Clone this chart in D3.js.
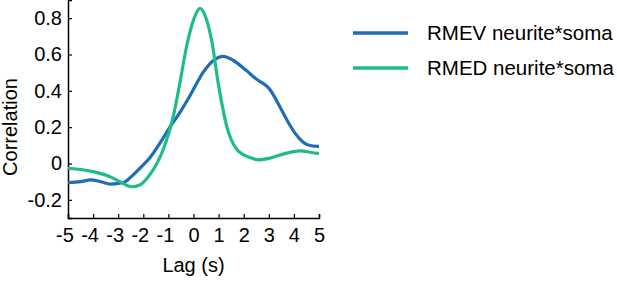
<!DOCTYPE html>
<html>
<head>
<meta charset="utf-8">
<script src="https://cdn.jsdelivr.net/npm/d3@7/dist/d3.min.js"></script>
<style>
  html, body { margin: 0; padding: 0; background: #fff; }
  svg { display: block; font-family: "Liberation Sans", Arial, sans-serif; }
</style>
</head>
<body>
<svg id="chart" width="617" height="283"></svg>
<script>
// ---- data ----
const seriesNames = ["RMEV neurite*soma", "RMED neurite*soma"];
const seriesColors = ["#1f6db5", "#1dbd85"];

const rmevLag = [-5, -4.5, -4.1, -3.7, -3.3, -2.8, -2.5, -2.14, -1.73, -1.3, -0.94, -0.5, -0.14, 0.39, 0.79, 1.19, 1.59, 2.12, 2.5, 2.78, 3.0, 3.45, 3.8, 4.11, 4.51, 4.96, 5];
const rmevVal = [-0.105, -0.1, -0.09, -0.1, -0.113, -0.105, -0.075, -0.027, 0.033, 0.12, 0.2, 0.29, 0.373, 0.503, 0.567, 0.59, 0.567, 0.51, 0.465, 0.44, 0.415, 0.31, 0.22, 0.155, 0.105, 0.094, 0.094];

const rmedLag = [-5, -4, -3.33, -2.93, -2.47, -2.14, -1.73, -1.2, -0.8, -0.54, -0.27, 0, 0.26, 0.5, 0.72, 1.0, 1.32, 1.72, 2.25, 2.6, 3.0, 3.45, 4.25, 4.96, 5];
const rmedVal = [-0.026, -0.045, -0.073, -0.1, -0.128, -0.118, -0.06, 0.08, 0.262, 0.446, 0.648, 0.79, 0.854, 0.8, 0.68, 0.43, 0.207, 0.079, 0.033, 0.02, 0.028, 0.047, 0.07, 0.056, 0.056];

const xTicks = [-5, -4, -3, -2, -1, 0, 1, 2, 3, 4, 5];
const yTicks = [-0.2, 0, 0.2, 0.4, 0.6, 0.8];

const svg = d3.select("#chart");
const mLeft = 68, mRight = 319, mTop = 0, mBottom = 218;

const x = d3.scaleLinear().domain([-5, 5]).range([mLeft, mRight]);
const y = d3.scaleLinear().domain([-0.3, 0.9]).range([mBottom, mTop]);

const fmtY = d => d === 0 ? "0" : (d < 0 ? "-" : "") + d3.format(".1f")(Math.abs(d));
const fmtX = d => (d < 0 ? "-" : "") + Math.abs(d);

// axes
const xAxis = d3.axisBottom(x).tickValues(xTicks).tickSize(-4).tickPadding(10).tickFormat(fmtX);
const yAxis = d3.axisLeft(y).tickValues(yTicks).tickSize(-4).tickPadding(6).tickFormat(fmtY);

const gx = svg.append("g").attr("transform", `translate(0,${mBottom})`).call(xAxis);
const gy = svg.append("g").attr("transform", `translate(${mLeft},0)`).call(yAxis);
[gx, gy].forEach(g => {
  g.select(".domain").attr("stroke", "#000").attr("stroke-width", 1.5);
  g.selectAll(".tick line").attr("stroke", "#000").attr("stroke-width", 1.2);
  g.selectAll(".tick text").attr("fill", "#000").attr("font-size", 20)
    .attr("font-family", "Liberation Sans, Arial, sans-serif");
});
// minus sign hangs left of the centred digit
gx.selectAll(".tick text").attr("dx", d => d < 0 ? -3.5 : 0);

// labels
svg.append("text").attr("x", (mLeft + mRight) / 2).attr("y", 272)
  .attr("text-anchor", "middle").attr("font-size", 20).text("Lag (s)");
svg.append("text").attr("transform", "translate(17,127) rotate(-90)")
  .attr("text-anchor", "middle").attr("font-size", 20).text("Correlation");

// lines
const line = d3.line().x(d => x(d[0])).y(d => y(d[1])).curve(d3.curveMonotoneX);
const blueData = rmevLag.map((l, i) => [l, rmevVal[i]]);
const greenData = rmedLag.map((l, i) => [l, rmedVal[i]]);

svg.append("path").datum(blueData).attr("d", line)
  .attr("fill", "none").attr("stroke", seriesColors[0]).attr("stroke-width", 3.2);
svg.append("path").datum(greenData).attr("d", line)
  .attr("fill", "none").attr("stroke", seriesColors[1]).attr("stroke-width", 3.2);

// legend
const legendY = [33, 68];
seriesNames.forEach((name, i) => {
  svg.append("line").attr("x1", 353).attr("x2", 408)
    .attr("y1", legendY[i]).attr("y2", legendY[i])
    .attr("stroke", seriesColors[i]).attr("stroke-width", 3.5);
  svg.append("text").attr("x", 427).attr("y", legendY[i] + 7)
    .attr("font-size", 20.5).attr("fill", "#000").text(name);
});
</script>
</body>
</html>
